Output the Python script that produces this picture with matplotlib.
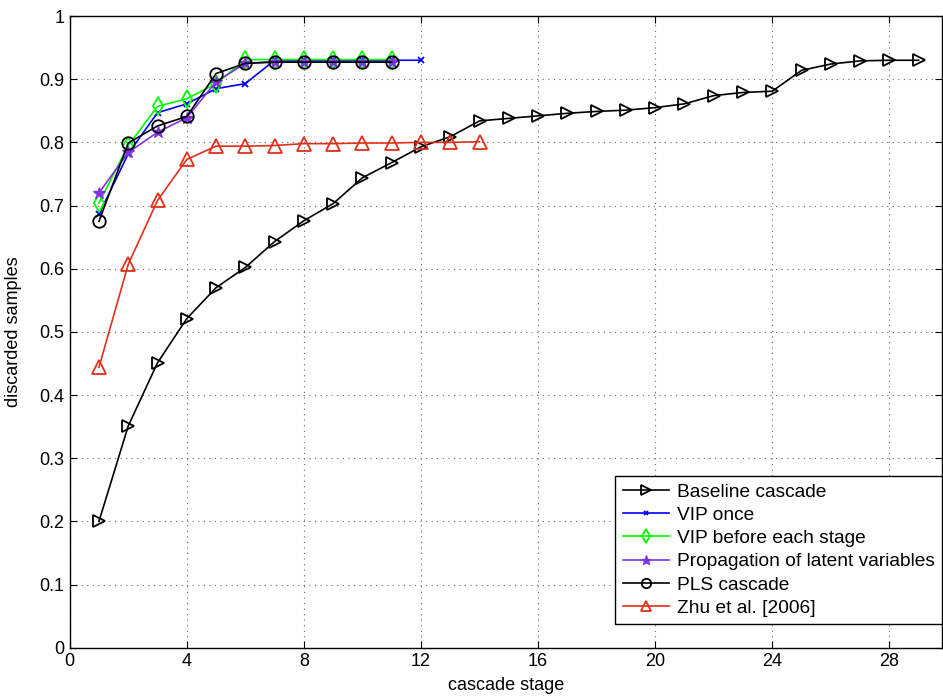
import matplotlib
matplotlib.use('Agg')
import matplotlib.pyplot as plt
import numpy as np

plt.rcParams['font.family'] = ['Liberation Sans', 'DejaVu Sans']

# discarded samples per cascade stage
baseline = [0.200, 0.351, 0.451, 0.521, 0.570, 0.602, 0.643, 0.676, 0.703, 0.744,
            0.768, 0.793, 0.809, 0.834, 0.838, 0.842, 0.846, 0.849, 0.851, 0.855,
            0.861, 0.874, 0.879, 0.881, 0.914, 0.924, 0.929, 0.930, 0.930]
vip_once = [0.686, 0.782, 0.847, 0.861, 0.885, 0.893, 0.930, 0.930, 0.930, 0.930, 0.930, 0.930]
vip_each = [0.704, 0.795, 0.857, 0.869, 0.893, 0.931, 0.931, 0.931, 0.931, 0.931, 0.931]
propagation = [0.720, 0.784, 0.816, 0.839, 0.896, 0.925, 0.928, 0.928, 0.928, 0.928, 0.928]
pls_cascade = [0.675, 0.799, 0.826, 0.841, 0.909, 0.925, 0.927, 0.927, 0.927, 0.927, 0.927]
zhu = [0.444, 0.607, 0.708, 0.773, 0.794, 0.794, 0.795, 0.798, 0.798, 0.799, 0.799,
       0.800, 0.800, 0.801]

labels = ['Baseline cascade', 'VIP once', 'VIP before each stage',
          'Propagation of latent variables', 'PLS cascade', 'Zhu et al. [2006]']

fig = plt.figure(figsize=(9.43, 6.97), dpi=100)
ax = fig.add_axes([0.0739, 0.0707, 0.9251, 0.9063])

lw = 1.2
ax.plot(np.arange(1, len(baseline) + 1), baseline, color='k', lw=lw, marker='>',
        ms=9, mfc='none', mew=1.3, label=labels[0])
ax.plot(np.arange(1, len(vip_once) + 1), vip_once, color='#0000ff', lw=lw, marker='x',
        ms=4, mew=1.3, label=labels[1])
ax.plot(np.arange(1, len(vip_each) + 1), vip_each, color='#00ff00', lw=lw, marker='d',
        ms=9, mfc='none', mew=1.3, label=labels[2])
ax.plot(np.arange(1, len(propagation) + 1), propagation, color='#8033e6', lw=lw,
        marker='*', ms=9, mfc='#8033e6', mew=1.0, label=labels[3])
ax.plot(np.arange(1, len(pls_cascade) + 1), pls_cascade, color='k', lw=lw, marker='o',
        ms=9, mfc='none', mew=1.3, label=labels[4])
ax.plot(np.arange(1, len(zhu) + 1), zhu, color='#e0301a', lw=lw, marker='^',
        ms=10, mfc='none', mew=1.3, label=labels[5])

ax.set_xlim(0, 29.8)
ax.set_ylim(0, 1)
ax.set_xticks(np.arange(0, 29, 4))
ax.set_yticks(np.arange(0, 1.01, 0.1))
ax.set_yticklabels(['0', '0.1', '0.2', '0.3', '0.4', '0.5', '0.6', '0.7', '0.8', '0.9', '1'])
ax.tick_params(direction='in', top=True, right=True, labelsize=13, length=5, pad=4)
ax.grid(True, linestyle=(0, (1, 4)), color='#666666', lw=0.8)
for s in ax.spines.values():
    s.set_linewidth(1.0)

ax.set_xlabel('cascade stage', fontsize=13, labelpad=5)
ax.set_ylabel('discarded samples', fontsize=13, labelpad=12)

leg = ax.legend(loc='lower right', bbox_to_anchor=(1.0, 0.037), borderaxespad=0,
                fontsize=13.8, fancybox=False, framealpha=1, edgecolor='k',
                handlelength=2.4, labelspacing=0.3, borderpad=0.4, handletextpad=0.4)
leg.get_frame().set_linewidth(1.0)
for h in leg.legend_handles:
    h.set_markersize(h.get_markersize() * 0.75)

fig.savefig('out.png', dpi=100)
